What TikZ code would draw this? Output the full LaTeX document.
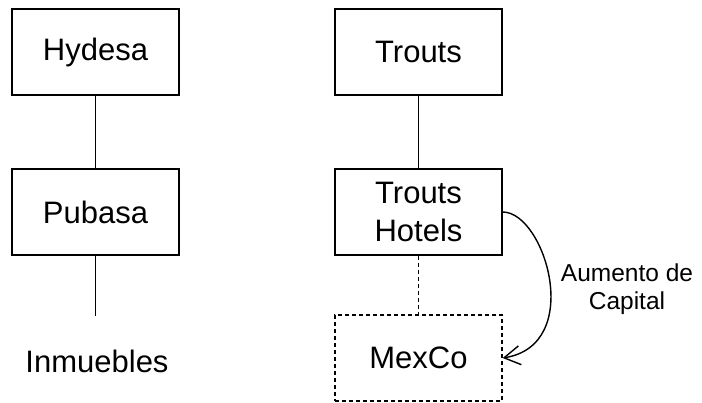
\documentclass[tikz,border=0pt]{standalone}
\usepackage{fontspec}
\setmainfont{Liberation Sans}
\usetikzlibrary{arrows.meta,positioning}
\tikzset{
  every node/.style={font=\fontsize{31}{38}\selectfont, text=black},
  firm/.style={draw=black, line width=1.4pt, minimum width=167pt, minimum height=86pt, inner sep=0pt, align=center},
  planned/.style={firm, dashed, dash pattern=on 4pt off 3pt},
  link/.style={draw=black, line width=1.4pt},
  plannedlink/.style={link, dash pattern=on 4pt off 3pt},
  move/.style={-{Straight Barb[length=16pt,width=19pt,line width=1.4pt]}, draw=black, line width=1.4pt},
}
\begin{document}
\begin{tikzpicture}[x=1pt, y=-1pt]
  \useasboundingbox (0,0) rectangle (702,402);
  % Left group: Hydesa over Pubasa over the buildings
  \node[firm] (hy) at (95.5,52) {Hydesa};
  \node[firm] (pu) at (95.5,212) {Pubasa};
  \node (inm) at (97,361) {Inmuebles};
  \coordinate (puend) at (95.5,316);
  \draw[link] (hy) -- (pu);
  \draw[link] (pu) -- (puend);
  % Right group: Trouts over Trouts Hotels over the new MexCo
  \node[firm] (tr) at (418.5,52) {Trouts};
  \node[firm] (th) at (418.5,212) {Trouts\\Hotels};
  \node[planned] (mex) at (418.5,358) {MexCo};
  \draw[link] (tr) -- (th);
  \draw[plannedlink] (th) -- (mex);
  % capital increase arc
  \draw[move] (th.east) .. controls (545,212) and (585,345) .. (mex.east);
  \node[font=\fontsize{24.5}{28}\selectfont, align=center] (cap) at (627,289) {Aumento de\\Capital};
\end{tikzpicture}
\end{document}
